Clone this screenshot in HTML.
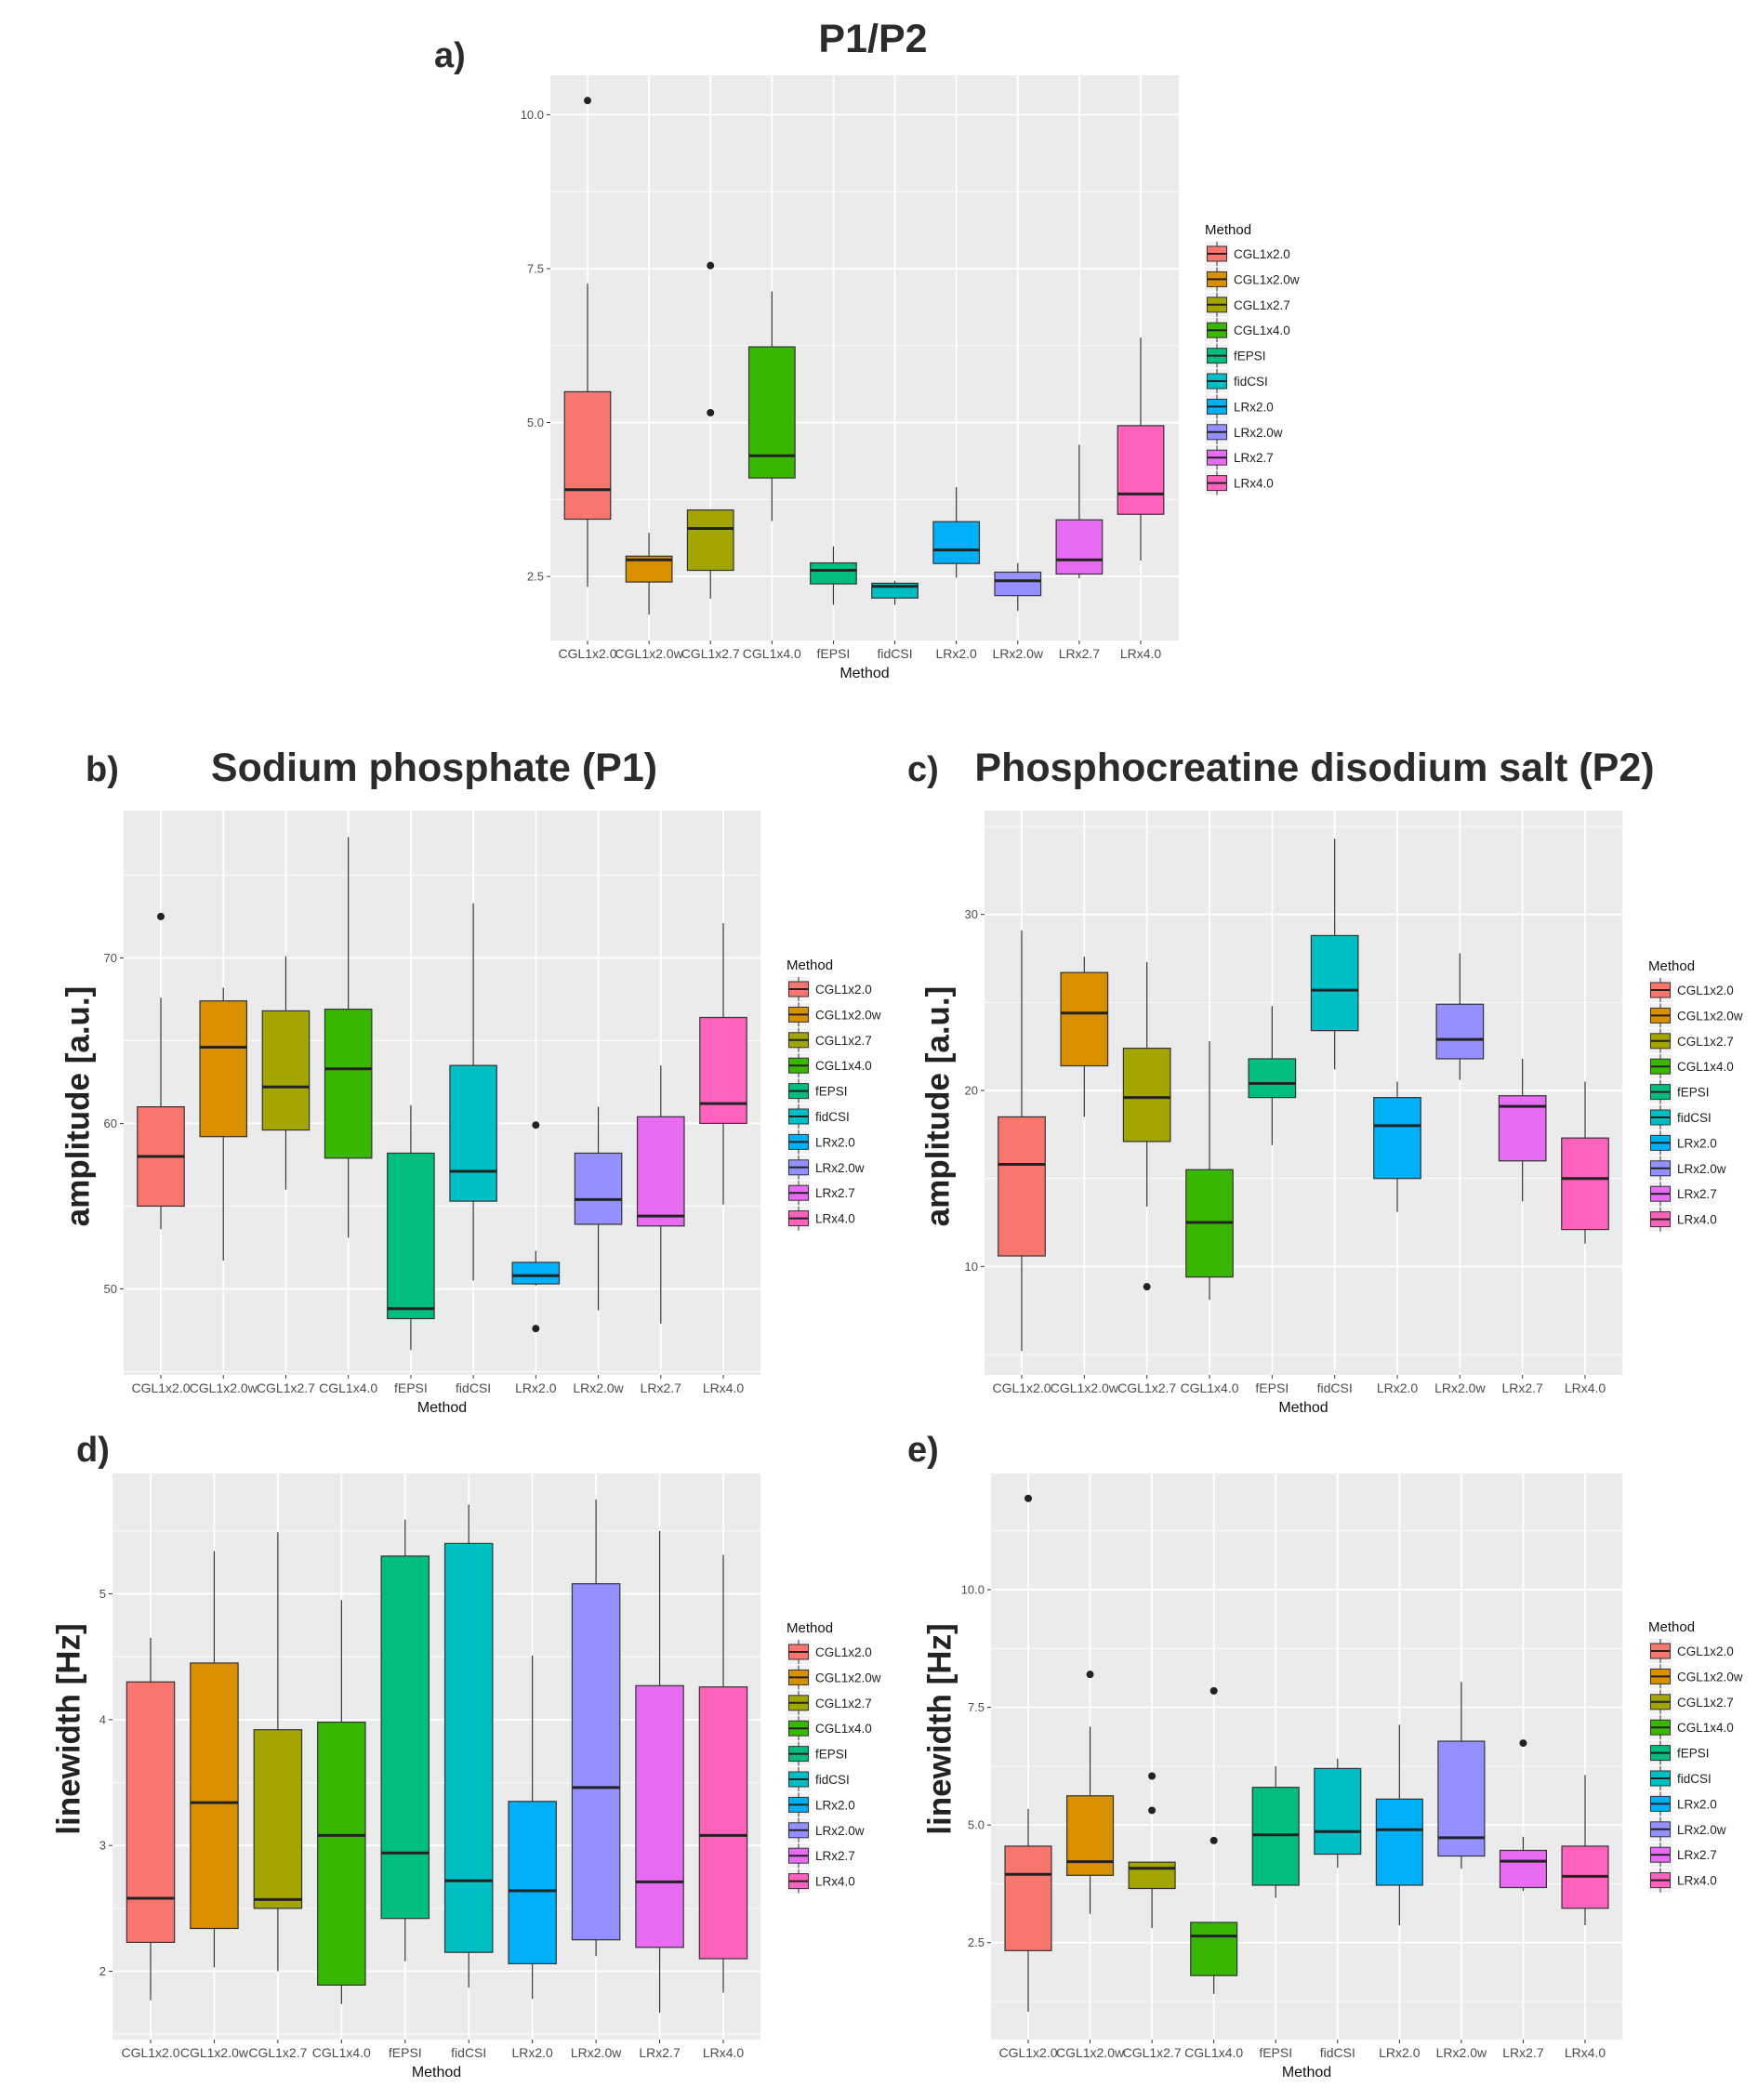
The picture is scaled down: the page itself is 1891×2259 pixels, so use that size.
<!DOCTYPE html>
<html><head><meta charset="utf-8"><style>
html,body{margin:0;padding:0;background:#fff;}
svg{display:block;font-family:"Liberation Sans",Arial,sans-serif;}
</style></head><body>
<svg id="fig" width="1891" height="2259" viewBox="0 0 1891 2259" xmlns="http://www.w3.org/2000/svg"></svg>
<script>
const categories=["CGL1x2.0","CGL1x2.0w","CGL1x2.7","CGL1x4.0","fEPSI","fidCSI","LRx2.0","LRx2.0w","LRx2.7","LRx4.0"];
const colors=["#F8766D","#D89000","#A3A500","#39B600","#00BF7D","#00BFC4","#00B0F6","#9590FF","#E76BF3","#FF62BC"];
// panel a
const aLo=[2.33,1.88,2.14,3.40,2.04,2.04,2.48,1.94,2.47,2.76];
const aQ1=[3.43,2.41,2.60,4.10,2.38,2.15,2.71,2.19,2.54,3.51];
const aMed=[3.91,2.77,3.28,4.46,2.60,2.34,2.93,2.43,2.77,3.84];
const aQ3=[5.50,2.83,3.58,6.23,2.72,2.39,3.39,2.57,3.42,4.95];
const aHi=[7.26,3.21,3.58,7.13,2.99,2.43,3.95,2.72,4.64,6.38];
const aOut=[[10.23],[],[7.55,5.16],[],[],[],[],[],[],[]];
const aTicks=[2.5,5.0,7.5,10.0];
const aTickLabels=["2.5","5.0","7.5","10.0"];
// panel b
const bLo=[53.6,51.7,56.0,53.1,46.3,50.5,50.2,48.7,47.9,55.1];
const bQ1=[55.0,59.2,59.6,57.9,48.2,55.3,50.3,53.9,53.8,60.0];
const bMed=[58.0,64.6,62.2,63.3,48.8,57.1,50.8,55.4,54.4,61.2];
const bQ3=[61.0,67.4,66.8,66.9,58.2,63.5,51.6,58.2,60.4,66.4];
const bHi=[67.6,68.2,70.1,77.3,61.1,73.3,52.3,61.0,63.5,72.1];
const bOut=[[72.5],[],[],[],[],[],[59.9,47.6],[],[],[]];
const bTicks=[50,60,70];
const bTickLabels=["50","60","70"];
// panel c
const cLo=[5.2,18.5,13.4,8.1,16.9,21.2,13.1,20.6,13.7,11.3];
const cQ1=[10.6,21.4,17.1,9.4,19.6,23.4,15.0,21.8,16.0,12.1];
const cMed=[15.8,24.4,19.6,12.5,20.4,25.7,18.0,22.9,19.1,15.0];
const cQ3=[18.5,26.7,22.4,15.5,21.8,28.8,19.6,24.9,19.7,17.3];
const cHi=[29.1,27.6,27.3,22.8,24.8,34.3,20.5,27.8,21.8,20.5];
const cOut=[[],[],[8.85],[],[],[],[],[],[],[]];
const cTicks=[10,20,30];
const cTickLabels=["10","20","30"];
// panel d
const dLo=[1.77,2.03,2.00,1.74,2.08,1.87,1.78,2.12,1.67,1.83];
const dQ1=[2.23,2.34,2.50,1.89,2.42,2.15,2.06,2.25,2.19,2.10];
const dMed=[2.58,3.34,2.57,3.08,2.94,2.72,2.64,3.46,2.71,3.08];
const dQ3=[4.30,4.45,3.92,3.98,5.30,5.40,3.35,5.08,4.27,4.26];
const dHi=[4.65,5.34,5.49,4.95,5.59,5.71,4.51,5.75,5.50,5.31];
const dOut=[[],[],[],[],[],[],[],[],[],[]];
const dTicks=[2,3,4,5];
const dTickLabels=["2","3","4","5"];
// panel e
const eLo=[1.03,3.11,2.81,1.41,3.45,4.09,2.87,4.07,3.60,2.87];
const eQ1=[2.33,3.93,3.65,1.80,3.72,4.38,3.72,4.34,3.67,3.23];
const eMed=[3.95,4.22,4.08,2.64,4.79,4.86,4.90,4.73,4.23,3.91];
const eQ3=[4.55,5.62,4.21,2.93,5.80,6.20,5.55,6.78,4.46,4.55];
const eHi=[5.34,7.09,4.21,2.93,6.25,6.41,7.13,8.04,4.75,6.06];
const eOut=[[11.94],[8.2],[6.04,5.31],[7.85,4.67],[],[],[],[],[6.74],[]];
const eTicks=[2.5,5.0,7.5,10.0];
const eTickLabels=["2.5","5.0","7.5","10.0"];

const NS="http://www.w3.org/2000/svg";
const svg=document.getElementById('fig');
function mk(tag,attrs,parent,text){const e=document.createElementNS(NS,tag);for(const k in attrs)e.setAttribute(k,attrs[k]);if(text!==undefined)e.textContent=text;(parent||svg).appendChild(e);return e;}

const panels=[
 {id:'a',L:592,R:1268,T:81,B:689,ymin:1.46,ymax:10.64,lo:aLo,q1:aQ1,med:aMed,q3:aQ3,hi:aHi,out:aOut,ticks:aTicks,tl:aTickLabels,x0:632,x1:1227,legX:1296,legY:246,title:"P1/P2",titleX:939,titleY:56,lab:"a)",labX:467,labY:72,ytitle:null},
 {id:'b',L:133,R:818,T:872,B:1479,ymin:44.8,ymax:78.9,lo:bLo,q1:bQ1,med:bMed,q3:bQ3,hi:bHi,out:bOut,ticks:bTicks,tl:bTickLabels,x0:173,x1:778,legX:846,legY:1037,title:"Sodium phosphate (P1)",titleX:467,titleY:840,lab:"b)",labX:92,labY:840,ytitle:"amplitude [a.u.]",ytX:84,ytY:1190,ytSize:35},
 {id:'c',L:1059,R:1745,T:872,B:1479,ymin:3.84,ymax:35.9,lo:cLo,q1:cQ1,med:cMed,q3:cQ3,hi:cHi,out:cOut,ticks:cTicks,tl:cTickLabels,x0:1099,x1:1705,legX:1773,legY:1038,title:"Phosphocreatine disodium salt (P2)",titleX:1414,titleY:840,lab:"c)",labX:976,labY:840,ytitle:"amplitude [a.u.]",ytX:1009,ytY:1190,ytSize:35},
 {id:'d',L:121,R:818,T:1585,B:2194,ymin:1.457,ymax:5.957,lo:dLo,q1:dQ1,med:dMed,q3:dQ3,hi:dHi,out:dOut,ticks:dTicks,tl:dTickLabels,x0:162,x1:778,legX:846,legY:1750,title:null,lab:"d)",labX:82,labY:1572,ytitle:"linewidth [Hz]",ytX:74,ytY:1860,ytSize:35},
 {id:'e',L:1066,R:1745,T:1585,B:2194,ymin:0.44,ymax:12.47,lo:eLo,q1:eQ1,med:eMed,q3:eQ3,hi:eHi,out:eOut,ticks:eTicks,tl:eTickLabels,x0:1106,x1:1705,legX:1773,legY:1749,title:null,lab:"e)",labX:976,labY:1572,ytitle:"linewidth [Hz]",ytX:1011,ytY:1860,ytSize:35}
];

panels.forEach(p=>{
 const g=mk('g',{});
 
 
 const y=v=>p.B-(v-p.ymin)/(p.ymax-p.ymin)*(p.B-p.T);
 const n=categories.length;
 const sp=(p.x1-p.x0)/(n-1);
 const x=i=>p.x0+i*sp;
 const bg=mk('rect',{x:p.L,y:p.T,width:p.R-p.L,height:p.B-p.T,fill:'#EBEBEB'},g);
 
 
 const step=p.ticks[1]-p.ticks[0];
 for(let v=p.ticks[0]-step*1.5;v<=p.ymax+step;v+=step){
  if(v<p.ymin||v>p.ymax)continue;
  mk('line',{x1:p.L,x2:p.R,y1:y(v),y2:y(v),stroke:'#fff','stroke-width':0.8},g);
 }
 p.ticks.forEach((v,i)=>{
  mk('line',{x1:p.L,x2:p.R,y1:y(v),y2:y(v),stroke:'#fff','stroke-width':1.8},g);
  mk('line',{x1:p.L-4,x2:p.L,y1:y(v),y2:y(v),stroke:'#333','stroke-width':1},g);
  const t=mk('text',{x:p.L-7,y:y(v)+4.5,'text-anchor':'end','font-size':13,fill:'#4d4d4d'},g,p.tl[i]);
  
  
 });
 categories.forEach((c,i)=>{
  mk('line',{x1:x(i),x2:x(i),y1:p.T,y2:p.B,stroke:'#fff','stroke-width':1.8},g);
  mk('line',{x1:x(i),x2:x(i),y1:p.B,y2:p.B+4,stroke:'#333','stroke-width':1},g);
  const t=mk('text',{x:x(i),y:p.B+19,'text-anchor':'middle','font-size':14,fill:'#4d4d4d'},g,c);
  
  
 });
 const bw=sp*0.75;
 categories.forEach((c,i)=>{
  const bx=mk('g',{},g);
  
  
  mk('line',{x1:x(i),x2:x(i),y1:y(p.hi[i]),y2:y(p.q3[i]),stroke:'#333','stroke-width':1.2},bx);
  mk('line',{x1:x(i),x2:x(i),y1:y(p.q1[i]),y2:y(p.lo[i]),stroke:'#333','stroke-width':1.2},bx);
  mk('rect',{x:x(i)-bw/2,y:y(p.q3[i]),width:bw,height:Math.max(1,y(p.q1[i])-y(p.q3[i])),fill:colors[i],stroke:'#333','stroke-width':1.2},bx);
  mk('line',{x1:x(i)-bw/2,x2:x(i)+bw/2,y1:y(p.med[i]),y2:y(p.med[i]),stroke:'#222','stroke-width':3},bx);
  p.out[i].forEach(v=>{
   const o=mk('circle',{cx:x(i),cy:y(v),r:4,fill:'#222'},bx);
   
   
  });
 });
 const xt=mk('text',{x:(p.L+p.R)/2,y:p.B+40,'text-anchor':'middle','font-size':16,fill:'#111'},g,'Method');
 
 
 if(p.ytitle){
  const yt=mk('text',{x:p.ytX,y:p.ytY,'text-anchor':'middle','font-size':p.ytSize,'font-weight':'bold',fill:'#222',transform:`rotate(-90 ${p.ytX} ${p.ytY})`,'dominant-baseline':'central'},g,p.ytitle);
  
  
 }
 if(p.title){
  const tt=mk('text',{x:p.titleX,y:p.titleY,'text-anchor':'middle','font-size':43,'font-weight':'bold',fill:'#2b2b2b'},g,p.title);
  
  
 }
 const lb=mk('text',{x:p.labX,y:p.labY,'font-size':38,'font-weight':'bold',fill:'#2b2b2b'},g,p.lab);
 
 
 const lg=mk('g',{},g);
 
 
 mk('text',{x:p.legX,y:p.legY+6,'font-size':15,fill:'#111'},lg,'Method');
 categories.forEach((c,i)=>{
  const ky=p.legY+27+i*27.4;
  const e=mk('g',{},lg);
  
  
  mk('rect',{x:p.legX,y:ky-13,width:26,height:26,fill:'#f2f2f2'},e);
  mk('line',{x1:p.legX+13,x2:p.legX+13,y1:ky-13,y2:ky+13,stroke:'#333','stroke-width':1},e);
  mk('rect',{x:p.legX+2.5,y:ky-8,width:21,height:16,fill:colors[i],stroke:'#333','stroke-width':1},e);
  mk('line',{x1:p.legX+2.5,x2:p.legX+23.5,y1:ky,y2:ky,stroke:'#222','stroke-width':2},e);
  mk('text',{x:p.legX+31,y:ky+5,'font-size':13.5,fill:'#222'},e,c);
 });
});
</script>
</body></html>
